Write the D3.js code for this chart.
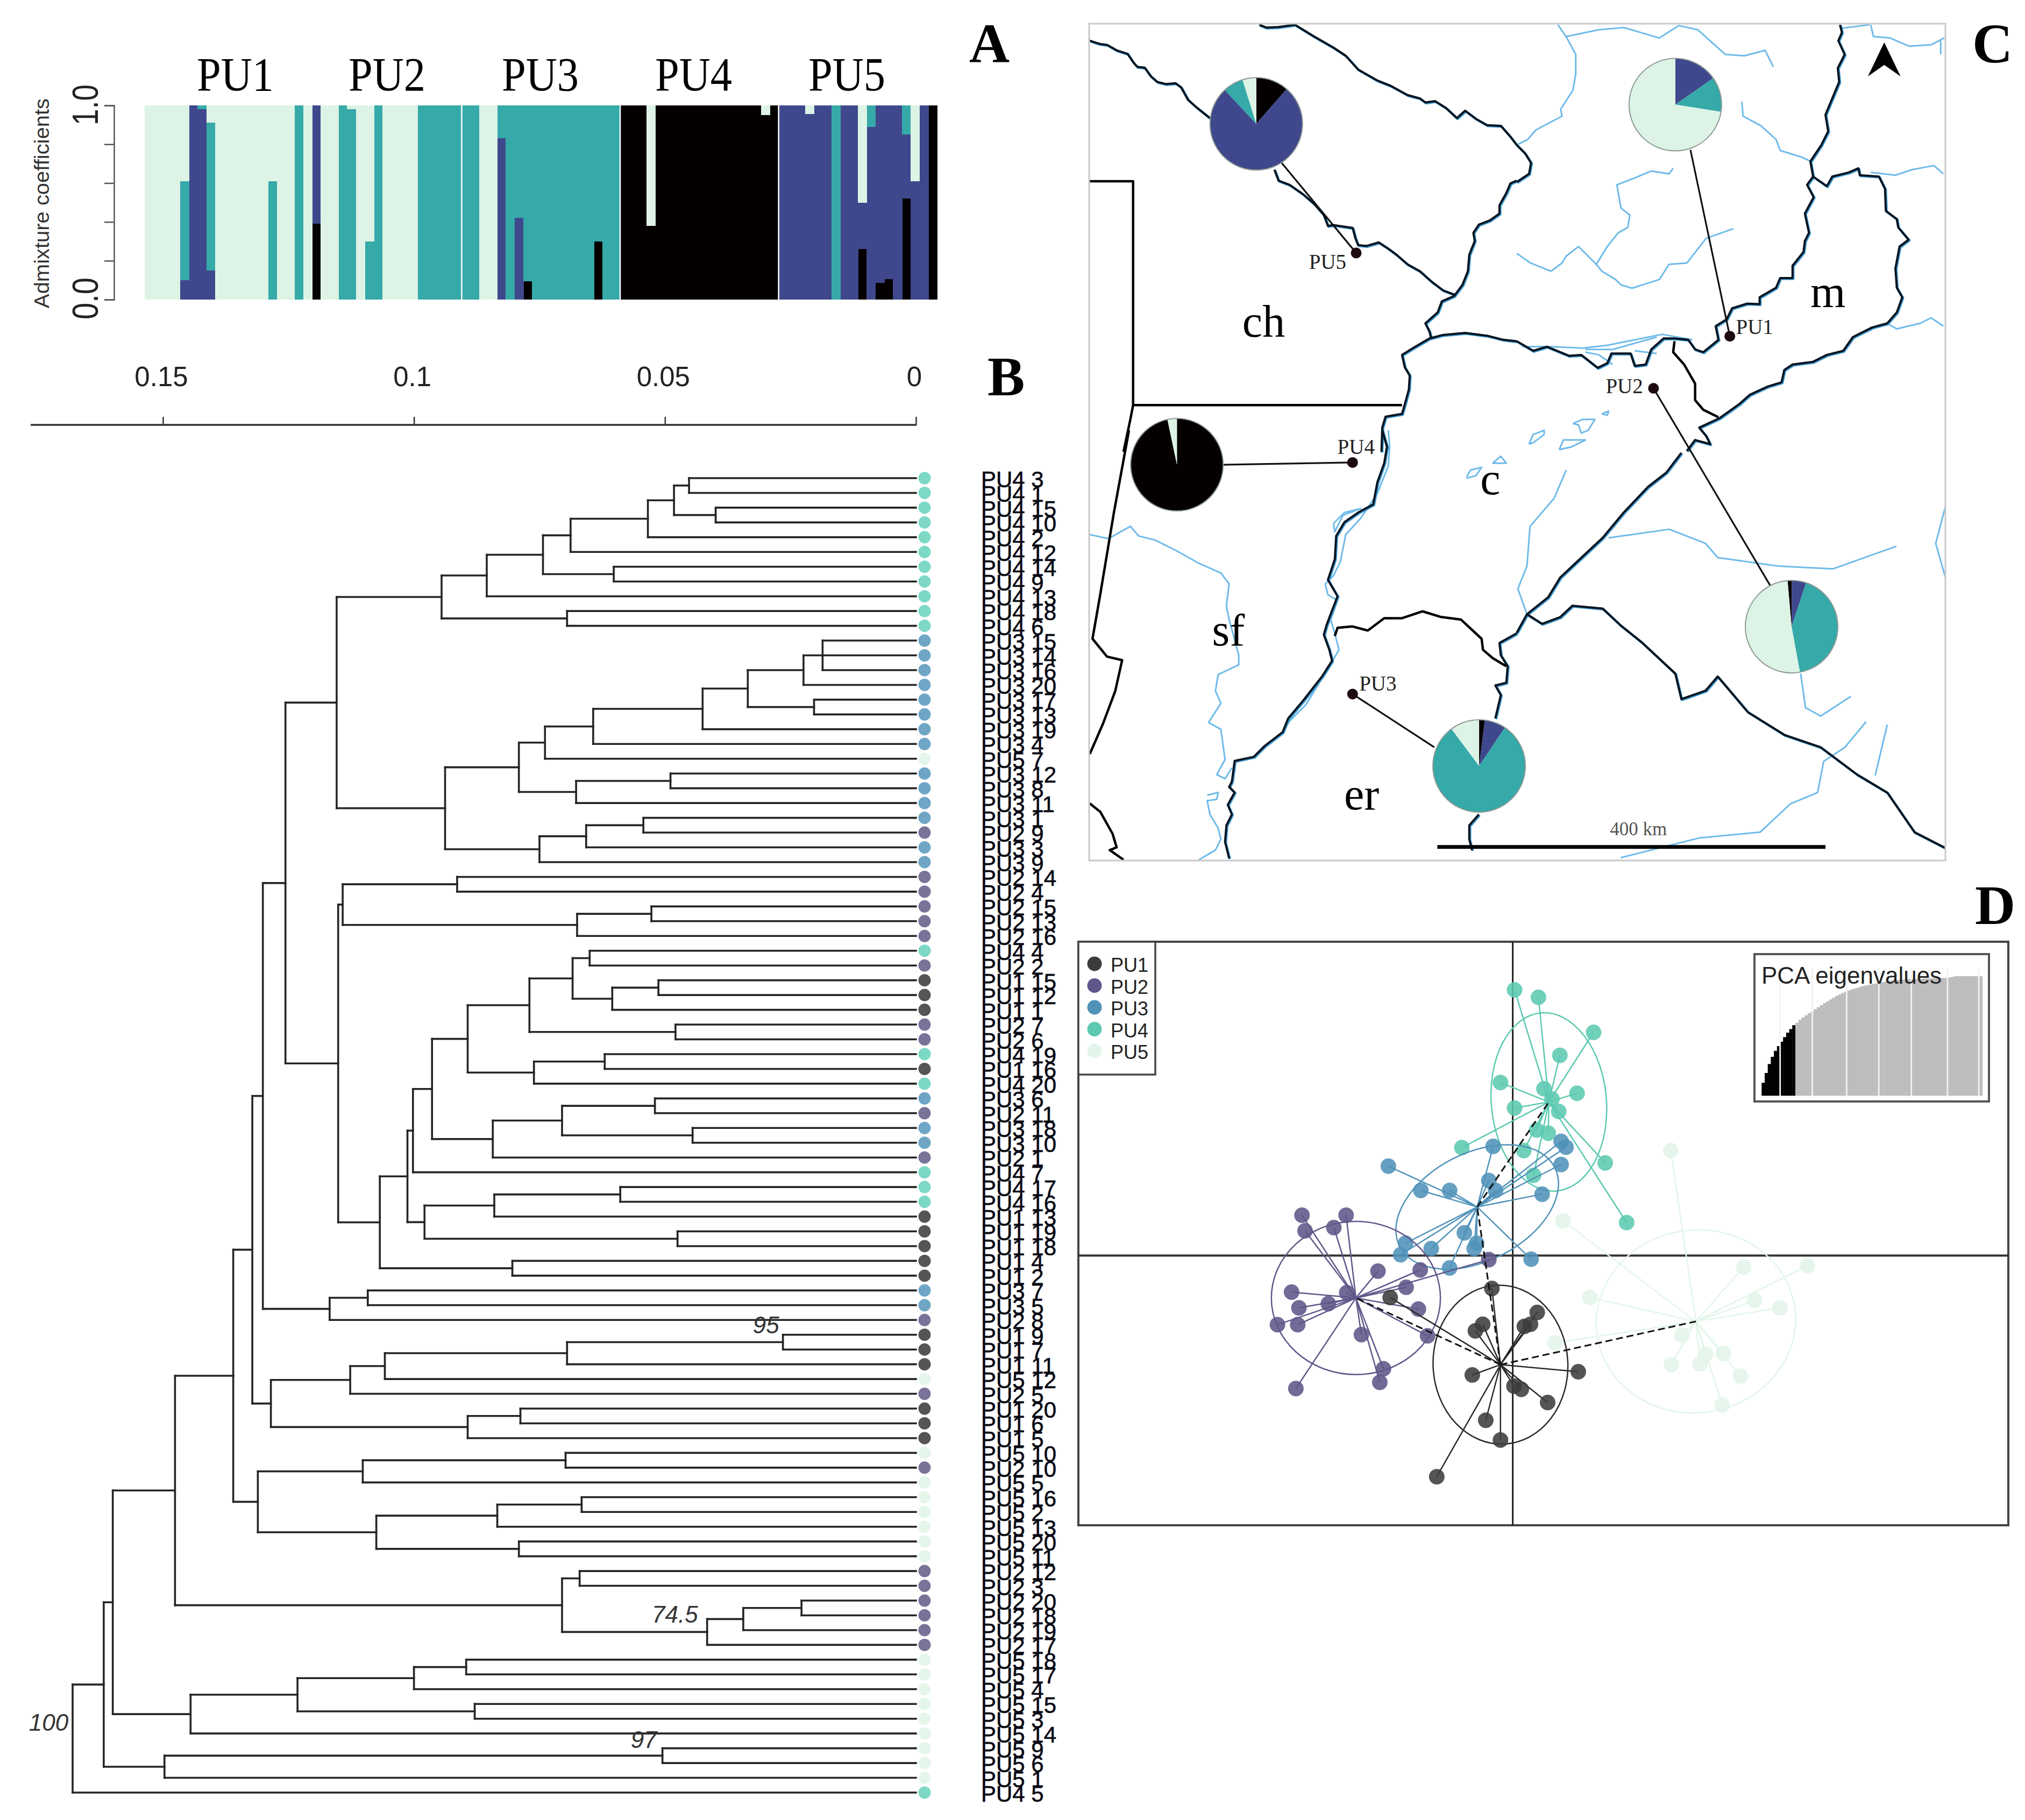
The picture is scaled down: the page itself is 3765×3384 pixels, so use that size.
<!DOCTYPE html>
<html><head><meta charset="utf-8">
<script src="https://cdn.jsdelivr.net/npm/d3@7/dist/d3.min.js"></script>
<style>html,body{margin:0;padding:0;background:#fff}svg{display:block}</style></head>
<body><svg id="c" width="3765" height="3384" xmlns="http://www.w3.org/2000/svg"></svg>
<script>
// ---------- Panel A: admixture coefficients (90 individuals, 18 per sampling unit)
const groupLabels=["PU1","PU2","PU3","PU4","PU5"];
const qBlack=[0,0,0,0,0,0,0,0,0,0,0,0,0,0,0,0,0,0,
 0,.39,0,0,0,0,0,0,0,0,0,0,0,0,0,0,0,0,
 0,0,0,0,0,0,0,.095,0,0,0,0,0,0,0,.30,0,0,
 1,1,1,.38,1,1,1,1,1,1,1,1,1,1,1,1,.95,1,
 0,0,0,0,0,0,0,0,0,.26,0,.085,.105,0,.52,0,0,1];
const qBlue=[0,0,0,0,.10,1,.98,.15,0,0,0,0,0,0,0,0,0,0,
 0,.61,0,0,0,0,0,0,0,0,0,0,0,0,0,0,0,0,
 0,0,0,0,.83,0,.42,0,0,0,0,0,0,0,0,0,0,0,
 0,0,0,0,0,0,0,0,0,0,0,0,0,0,0,0,0,0,
 1,1,1,.955,1,1,0,1,1,.24,.89,.915,.895,1,.33,.61,1,0];
const qTeal=[0,0,0,0,.51,0,.02,.76,0,0,0,0,0,0,.61,0,0,1,
 0,0,0,0,1,.98,0,.30,1,0,0,0,0,1,1,1,1,1,
 1,1,0,0,.17,1,.58,.905,1,1,1,1,1,1,1,.70,1,1,
 0,0,0,0,0,0,0,0,0,0,0,0,0,0,0,0,0,0,
 0,0,0,0,0,0,1,0,0,0,.11,0,0,0,.15,0,0,0];
const admixTicks=[0,.2,.4,.6,.8,1];
const clusterColors={black:"#050000",blue:"#3f488c",teal:"#36a9a9",light:"#ddf3e5"};

// ---------- Panel B: neighbour-joining tree, nested as [height, child, child...]
const cladeA=[.0945,[.0855,[.0743,[.0688,[.0534,[.0482,[.0452,"PU4 3","PU4 1"],[.0399,"PU4 15","PU4 10"]],"PU4 2"],"PU4 12"],[.0602,"PU4 14","PU4 9"]],"PU4 13"],[.0695,"PU4 18","PU4 6"]];
const cladeB=[.0938,[.0791,[.0739,[.0643,[.0425,[.0335,[.0224,[.0186,"PU3 15","PU3 14","PU3 16"],"PU3 20"],[.0203,"PU3 17","PU3 13"]],"PU3 19"],"PU3 4"],"PU5 7"],[.0677,[.0489,"PU3 12","PU3 8"],"PU3 11"]],[.0750,[.0657,[.0543,"PU3 1","PU2 9"],"PU3 3"],"PU3 9"]];
const cladeC=[.1142,[.0914,"PU2 14","PU2 4"],[.0675,[.0527,"PU2 15","PU2 13"],"PU2 16"]];
const cladeD=[.0964,[.0893,[.0770,[.0684,[.0650,"PU4 4","PU2 2"],[.0605,[.0513,"PU1 15","PU1 12"],"PU1 1"]],[.0479,"PU2 7","PU2 6"]],[.0761,[.0620,"PU4 19","PU1 16"],"PU4 20"]],[.0843,[.0705,[.0520,"PU3 6","PU2 11"],[.0445,"PU3 18","PU3 10"]],"PU2 1"]];
const cladeE=[.1068,[.1013,[.1002,cladeD,"PU4 7"],[.0979,[.0840,[.0589,"PU4 17","PU4 16"],"PU1 13"],[.0475,"PU1 19","PU1 18"]]],[.0804,"PU1 4","PU1 2"]];
const cladeF=[.1285,[.1127,[.1058,[.0695,[.0265,"PU1 9","PU1 7"],"PU1 11"],"PU5 12"],"PU2 5"],[.0893,[.0788,"PU1 20","PU1 6"],"PU1 5"]];
const cladeG=[.1311,[.1102,[.0698,"PU5 10","PU2 10"],"PU5 5"],[.1075,[.0834,[.0666,"PU5 16","PU5 2"],"PU5 13"],[.0791,"PU5 20","PU5 11"]]];
const cladeH=[.0705,[.0670,"PU2 12","PU2 3"],[.0416,[.0344,[.0228,"PU2 20","PU2 18"],"PU2 19"],"PU2 17"]];
const cladeI=[.1445,[.1232,[.1000,[.0896,"PU5 18","PU5 17"],"PU5 4"],[.0879,"PU5 15","PU5 3"]],"PU5 14"];
const treeRoot=[.1680,[.1618,[.1600,[.1476,[.1360,[.1322,[.1301,[.1256,[.1154,cladeA,cladeB],[.1151,cladeC,cladeE]],[.1168,[.1092,"PU3 7","PU3 5"],"PU2 8"]],cladeF],cladeG],cladeH],cladeI],[.1497,[.0505,"PU5 9","PU5 6"],"PU5 1"]],"PU4 5"];
const treeTicks=[.15,.1,.05,0];
const treeTickLabels=["0.15","0.1","0.05","0"];
const popDotColors={PU1:"#555555",PU2:"#7a7399",PU3:"#6fa6c6",PU4:"#7dd8c6",PU5:"#e4f6ea"};
const supports=[{t:"95",h:.0325,i:57.9},{t:"74.5",h:.0526,i:77.5},{t:"97",h:.0568,i:85.98},{t:"100",h:.1767,i:84.8}];

// ---------- Panel C: map. Sites and the south-east are in map units; three traced sheets in sheet units.
const mapBox=[22,1436,42,1520];
const seDark=[
 [[1000,800],[975,835],[945,860],[905,905],[870,950],[830,990],[800,1020],[780,1055],[745,1085],[728,1118]],
 [[745,1085],[770,1102],[800,1090],[820,1070],[870,1075],[900,1105],[935,1135],[990,1190],[1000,1235],[1040,1220],[1060,1195],[1110,1258],[1170,1298],[1230,1320],[1290,1368],[1340,1400],[1385,1470],[1436,1498]]
];
const seLight=[
 [[810,830],[790,880],[750,930],[745,1000],[730,1040],[745,1085]],
 [[880,950],[980,935],[1040,960],[1060,985],[1160,1000],[1250,1005],[1355,965]],
 [[1436,895],[1420,960],[1436,1020]],
 [[1197,1190],[1205,1250],[1230,1265],[1280,1230]],
 [[1305,1275],[1270,1320],[1235,1345],[1225,1400],[1180,1420],[1130,1470],[1030,1480],[900,1515]],
 [[1340,1280],[1320,1370]]
];
const nwDark=[
 [[12,70],[50,82],[75,85],[110,105],[150,118],[170,148],[185,165],[212,168],[235,200],[258,220],[290,228],[325,225],[345,240],[370,285],[400,312],[450,352]],
 [[685,540],[700,580],[740,595],[790,630],[830,665],[865,705],[880,745],[900,742],[970,752],[980,790],[990,815],[1020,818],[1065,805],[1100,828],[1130,850],[1170,885],[1215,910],[1260,950],[1300,980],[1340,995]],
 [[630,12],[655,22],[700,20],[760,12],[830,55],[900,95],[945,125],[990,175],[1060,215],[1110,235],[1170,268],[1215,280],[1235,295],[1270,290],[1310,315],[1350,352],[1380,325],[1420,355],[1460,378],[1510,380],[1545,420],[1568,450]],
 [[1568,580],[1545,590],[1530,625],[1505,670],[1505,700],[1470,725],[1430,740],[1410,770],[1415,800],[1395,850],[1390,910],[1370,960],[1340,1000],[1295,1020],[1280,1060],[1235,1100],[1250,1130],[1255,1150]],
 [[1568,1165],[1520,1160],[1460,1145],[1380,1135],[1300,1142],[1250,1155],[1190,1190],[1150,1215],[1160,1260],[1178,1290],[1175,1340],[1160,1395],[1150,1430],[1090,1440],[1078,1480],[1075,1568]]
];
const nwBorders=[[[12,582],[170,582],[170,1398],[1150,1398]],[[170,1398],[160,1450],[135,1568]]];
const neDark=[
 [[0,450],[30,480],[52,515],[45,555],[0,585]],
 [[1178,12],[1185,40],[1172,70],[1195,120],[1170,170],[1175,220],[1150,280],[1125,340],[1135,400],[1110,450],[1070,510],[1080,565],[1058,595],[1082,640],[1050,700],[1065,770],[1050,800],[1045,840],[1005,890],[1005,935],[960,935],[945,970],[885,1005],[885,1030],[840,1028],[785,1045],[765,1085],[725,1110],[735,1160],[680,1205],[650,1195],[625,1160],[575,1155],[535,1155],[490,1195],[470,1250],[430,1255],[415,1210],[345,1210],[330,1245],[295,1262],[235,1215],[190,1218],[110,1185],[60,1200],[0,1165]],
 [[1080,565],[1130,600],[1150,565],[1210,550],[1245,535],[1250,560],[1320,565],[1342,610],[1345,690],[1385,720],[1390,750],[1428,795],[1395,820],[1380,900],[1385,970],[1405,1005],[1385,1060],[1350,1100],[1295,1115],[1225,1150],[1190,1200],[1130,1215],[1080,1240],[1005,1250],[975,1270],[965,1315],[915,1330],[850,1360],[810,1395],[740,1445],[665,1480],[690,1510],[705,1540],[650,1525],[620,1565]]
];
const neBorders=[[[575,1165],[570,1205],[610,1250],[650,1320],[650,1380],[680,1415],[735,1442]]];
const neLight=[
 [[150,12],[180,55],[215,120],[215,190],[205,250],[160,320],[165,345],[70,395],[40,430],[0,450]],
 [[180,55],[300,30],[390,22],[520,60],[590,15],[660,30],[710,75],[760,120],[830,125],[905,105],[935,165]],
 [[820,292],[825,345],[890,380],[945,430],[960,470],[1040,495],[1072,510]],
 [[1290,550],[1380,560],[1440,540],[1520,525],[1555,555]],
 [[1180,25],[1285,12]],
 [[1290,12],[1300,55],[1360,60],[1430,90],[1510,85],[1558,60]],
 [[1545,70],[1545,120]],
 [[570,535],[555,555],[490,545],[430,570],[365,595],[380,680],[412,705],[405,750],[370,770],[330,820],[290,885],[310,910],[360,940],[380,960],[420,972],[520,940],[555,885],[620,880],[690,790],[790,755]],
 [[0,845],[50,880],[125,910],[165,880],[180,855],[225,820],[290,885]],
 [[1350,1100],[1385,1120],[1470,1100],[1510,1080],[1555,1110]],
 [[20,1185],[120,1185],[240,1190],[330,1180],[430,1160],[530,1140],[640,1160]],
 [[250,1195],[350,1195],[510,1150]],
 [[250,1205],[300,1215],[350,1250]],
 [[430,1200],[510,1210]],
 [[45,1540],[60,1505],[100,1490],[100,1505],[60,1535],[45,1540]],
 [[205,1465],[240,1450],[285,1450],[260,1490],[235,1500],[225,1470],[205,1465]],
 [[310,1430],[335,1420],[330,1435],[310,1430]],
 [[155,1560],[170,1525],[250,1525],[200,1550],[155,1560]]
];
const swDark=[
 [[1078,0],[1095,60],[1085,120],[1060,190],[1045,270],[990,300],[940,335],[910,385],[905,470],[880,545],[915,605],[890,670],[875,710],[865,745],[885,800],[895,840],[860,895],[790,985],[735,1050],[715,1100],[650,1150],[610,1190],[540,1205],[530,1280],[520,1300],[540,1320],[515,1365],[530,1400],[510,1440],[505,1500],[520,1560]],
 [[1568,740],[1505,775],[1510,820],[1535,860],[1530,920],[1490,930],[1510,965],[1490,1050]],
 [[1430,1400],[1395,1440],[1395,1490],[1405,1530]]
];
const swBorders=[
 [[155,0],[100,300],[50,600],[22,760],[75,825],[130,838],[105,950],[60,1070],[12,1180]],
 [[12,1360],[50,1390],[95,1470],[110,1520],[85,1530],[135,1565]],
 [[905,750],[915,720],[970,715],[1025,730],[1085,685],[1150,685],[1225,660],[1290,680],[1365,690],[1440,760],[1445,800],[1480,830],[1530,860]]
];
const swLight=[
 [[12,380],[80,395],[160,350],[190,385],[250,400],[330,440],[410,485],[490,520],[520,560],[510,640],[520,690],[555,820],[555,855],[480,890],[470,950],[490,995],[445,1065],[490,1090],[505,1200],[475,1255],[505,1270],[530,1230]],
 [[440,1330],[480,1320],[475,1345],[440,1350],[450,1400],[480,1450],[490,1490],[470,1530],[410,1565]],
 [[1100,0],[1105,60],[1100,130],[1060,230],[1000,320],[945,380],[925,480],[900,530],[870,560],[880,600],[915,620],[890,690],[905,740],[920,800],[900,835],[800,1000],[740,1060],[710,1110]],
 [[900,340],[905,370],[935,310],[1000,285],[940,300],[900,340]],
 [[1385,170],[1400,145],[1440,135],[1420,165],[1385,175]],
 [[1480,120],[1510,95],[1530,120],[1480,120]]
];
const sites=[
 {n:"PU1",x:1080,y:594,lx:1090,ly:590,px:990,py:185,ex:1015,ey:265},
 {n:"PU2",x:954,y:686,lx:875,ly:695,px:1182,py:1107,ex:1147,ey:1035},
 {n:"PU3",x:457,y:1226,lx:468,ly:1220,px:666,py:1353,ex:592,ey:1320},
 {n:"PU4",x:457,y:817,lx:432,ly:802,px:167,py:821,ex:243,ey:821},
 {n:"PU5",x:463,y:447,lx:385,ly:475,px:298,py:219,ex:340,ey:288}
];
// black, blue, teal, light
const pieShares=[[0,.153,.122,.725],[.015,.05,.42,.515],[.02,.074,.804,.102],[.967,0,0,.033],[.114,.767,.071,.048]];
const pieStartDeg=[0,-5,0,0,0];
const regionNames=[{t:"ch",x:275,y:595},{t:"m",x:1213,y:543},{t:"c",x:668,y:873},{t:"sf",x:225,y:1140},{t:"er",x:443,y:1430}];

// ---------- Panel D: PCA
const pcaGroups=["PU1","PU2","PU3","PU4","PU5"];
const pcaColors={PU1:"#3c3c3c",PU2:"#5f5789",PU3:"#5092b8",PU4:"#5cc9b0",PU5:"#e3f5ea"};
const pcaLines={PU1:"#2a2a2a",PU2:"#5f5789",PU3:"#5092b8",PU4:"#5cc9b0",PU5:"#e3f5ea"};
const pu1Pts=[[-.34,-.80],[-2.00,-1.02],[.40,-1.38],[.19,-1.72],[.29,-1.67],[-.49,-1.67],[-.61,-1.83],[1.07,-2.82],[-.66,-2.90],[.02,-3.17],[.14,-3.25],[.57,-3.57],[-.44,-4.00],[-.20,-4.48],[-1.24,-5.37]];
const pu2Pts=[[-3.44,.98],[-2.72,.98],[-3.39,.60],[-2.92,.68],[-2.20,-.38],[-1.51,-.35],[-.39,-.10],[-1.74,-.77],[-2.71,-.90],[-3.61,-.89],[-3.01,-1.17],[-3.49,-1.27],[-1.54,-1.30],[-3.84,-1.68],[-3.51,-1.68],[-2.47,-1.92],[-1.39,-1.95],[-2.11,-2.75],[-2.17,-3.08],[-3.54,-3.23]];
const pu3Pts=[[-.32,2.65],[.79,2.77],[.87,2.63],[-2.03,2.17],[.79,2.21],[-.39,1.82],[-1.50,1.58],[-1.03,1.58],[-.28,1.58],[.48,1.49],[-.79,.55],[-1.75,.30],[-.59,.30],[-1.33,.17],[-.63,.17],[-1.83,.02],[-1.03,-.30],[.30,-.09]];
const pu4Pts=[[.03,6.45],[.42,6.27],[1.32,5.42],[.77,4.86],[-.20,4.20],[.51,4.05],[1.05,3.94],[.64,3.80],[.03,3.58],[.75,3.50],[.39,3.05],[.58,2.97],[-.83,2.62],[.18,2.55],[1.51,2.25],[.34,1.95],[1.86,.80]];
const pu5Pts=[[2.58,2.55],[.82,.84],[3.77,-.28],[4.81,-.25],[1.26,-1.02],[3.95,-1.09],[4.36,-1.27],[2.76,-1.93],[.69,-2.12],[3.15,-2.40],[3.44,-2.38],[2.59,-2.65],[3.06,-2.63],[3.72,-2.93],[3.42,-3.63]];
const pcaPoints=[pu1Pts,pu2Pts,pu3Pts,pu4Pts,pu5Pts];
const pcaCentres=[[-.20,-2.65],[-2.56,-1.03],[-.58,1.18],[.59,3.73],[2.99,-1.60]];
const ellipseRadii=[[1.10,1.93],[1.38,1.86],[1.42,1.31],[.94,2.17],[1.63,2.22]];
const ellipseTilt=[-3,0,-27,-5,-8];
const centreLinks=[[0,1],[0,2],[0,4],[2,3]];
const eigenCumulative=[.108,.19,.265,.325,.375,.415,.452,.49,.527,.557,.59,.61,.635,.655,.672,.69,.705,.723,.74,.757,.775,.79,.805,.82,.835,.848,.86,.87,.88,.89,.897,.905,.913,.92,.925,.93,.935,.94,.945,.95,.955,.96,.963,.966,.968,.97,.972,.974,.976,.977,.978,.979,.98,.981,.982,.983,.984,.984,.985,.985,.985,.99,.995,1,1,1,1,1,1,1,1,1];
const eigenRetained=11;
const eigenGaps=[6,16.5,27.7,38.2,48.8,60.6,70.8];

// =================================================================
const svg=d3.select("#c");
const SERIF="'Liberation Serif','Times New Roman',serif", SANS="'Liberation Sans',Arial,sans-serif";
const txt=(p,t,x,y,size,fam,extra={})=>{const e=p.append("text").attr("x",x).attr("y",y).attr("font-size",size).attr("font-family",fam).attr("fill",extra.fill||"#000").text(t);
  if(extra.weight)e.attr("font-weight",extra.weight); if(extra.style)e.attr("font-style",extra.style);
  if(extra.anchor)e.attr("text-anchor",extra.anchor); if(extra.len)e.attr("textLength",extra.len).attr("lengthAdjust","spacingAndGlyphs"); return e;};
[["A",1802,116],["B",1836,735],["C",3667,116],["D",3672,1718]].forEach(d=>txt(svg,d[0],d[1],d[2],104,SERIF,{weight:"bold"}));

// ----- A
{const g=svg.append("g");
 const x=d3.scaleBand().domain(d3.range(qBlack.length)).range([269,1742]);
 const y=d3.scaleLinear().domain([0,1]).range([557,196]);
 const rows=qBlack.map((b,i)=>({i,black:b,blue:qBlue[i],teal:qTeal[i],light:Math.max(0,1-b-qBlue[i]-qTeal[i])}));
 const stack=d3.stack().keys(["black","blue","teal","light"])(rows);
 g.selectAll("g.s").data(stack).join("g").attr("fill",d=>clusterColors[d.key]).attr("shape-rendering","crispEdges").selectAll("rect").data(d=>d).join("rect")
  .attr("x",d=>x(d.data.i)).attr("width",x.bandwidth()+1).attr("y",d=>y(d[1])).attr("height",d=>Math.max(0,y(d[0])-y(d[1])));
 [36,54,72].forEach(i=>g.append("rect").attr("x",x(i)-1).attr("width",2.5).attr("y",196).attr("height",361).attr("fill","#fff"));
 const ax=g.append("g").attr("transform","translate(212,0)").call(d3.axisLeft(y).tickValues(admixTicks).tickSize(18).tickFormat(""));
 ax.selectAll("path,line").attr("stroke","#555").attr("stroke-width",2.5);
 const rot=(t,cy,size,len,bx,col)=>g.append("text").attr("transform",`translate(${bx},${cy}) rotate(-90)`).attr("text-anchor","middle").attr("font-family",SANS).attr("font-size",size).attr("fill",col).attr("textLength",len).attr("lengthAdjust","spacingAndGlyphs").text(t);
 rot("Admixture coefficients",378,38,390,91,"#333");
 rot("1.0",195,68,76,182,"#222"); rot("0.0",555,68,78,182,"#222");
 [366,648,933,1218,1503].forEach((lx,i)=>txt(g,groupLabels[i],lx,168,88,SERIF,{len:143}));
}

// ----- B
{const g=svg.append("g");
 const xT=d3.scaleLinear().domain([0,.15]).range([1703,303]);
 const ax=g.append("g").attr("transform","translate(0,790)").call(d3.axisTop(xT).tickValues(treeTicks).tickSize(15).tickFormat(""));
 ax.select(".domain").remove(); ax.selectAll("line").attr("stroke","#333").attr("stroke-width",2.5);
 g.append("line").attr("x1",57).attr("x2",xT(0)+1).attr("y1",790).attr("y2",790).attr("stroke","#333").attr("stroke-width",3.5);
 treeTicks.forEach((t,i)=>txt(g,treeTickLabels[i],xT(t)-3,718,51,SANS,{anchor:"middle",fill:"#222"}));
 const root=d3.hierarchy(treeRoot,d=>Array.isArray(d)?d.slice(1):null);
 const leaves=root.leaves();
 const yT=d3.scaleLinear().domain([0,leaves.length-1]).range([889,3333]);
 leaves.forEach((l,i)=>{l.py=yT(i);l.name=l.data;});
 root.eachAfter(n=>{n.px=xT(n.children?n.data[0]:0);if(n.children){n.py=(n.children[0].py+n.children[n.children.length-1].py)/2;}});
 const ln=g.append("g").attr("stroke","#252525").attr("stroke-width",3.6).attr("fill","none").attr("stroke-linecap","square");
 root.each(n=>{if(n.parent)ln.append("line").attr("x1",n.parent.px).attr("x2",n.px).attr("y1",n.py).attr("y2",n.py);
  if(n.children)ln.append("line").attr("x1",n.px).attr("x2",n.px).attr("y1",n.children[0].py).attr("y2",n.children[n.children.length-1].py);});
 leaves.forEach(l=>{const pop=l.name.split(" ")[0];
  g.append("circle").attr("cx",1719).attr("cy",l.py).attr("r",11.5).attr("fill",popDotColors[pop]);
  txt(g,l.name,1824,l.py+17,42,SANS,{fill:"#0a0a14"}).attr("stroke","#0a0a14").attr("stroke-width",.6);});
 supports.forEach(s=>txt(g,s.t,xT(s.h),yT(s.i),44,SANS,{style:"italic",fill:"#333"}));
}

// ----- C
{const g=svg.append("g");
 const mx=d3.scaleLinear().domain([mapBox[0],mapBox[1]]).range([2025,3617]);
 const my=d3.scaleLinear().domain([mapBox[2],mapBox[3]]).range([44,1600]);
 svg.append("clipPath").attr("id","mapclip").append("rect").attr("x",2025).attr("y",44).attr("width",1592).attr("height",1556);
 const m=g.append("g").attr("clip-path","url(#mapclip)");
 const lineOf=(sx,sy)=>d3.line().x(d=>sx(d[0])).y(d=>sy(d[1]));
 const sheet=(ox,oy)=>{const s=d3.scaleLinear().domain([0,1568]);return lineOf(s.copy().range([ox,ox+800]),s.copy().range([oy,oy+800]));};
 const mapLine=lineOf(mx,my), nw=sheet(2020,40), ne=sheet(2820,40), sw=sheet(2020,800);
 const draw=(data,gen,col,w,dx=0,dy=0)=>m.append("g").attr("transform",`translate(${dx},${dy})`).attr("fill","none").attr("stroke",col).attr("stroke-width",w).attr("stroke-linejoin","round").selectAll("path").data(data).join("path").attr("d",gen);
 const lights=[[seLight,mapLine],[neLight,ne],[swLight,sw]];
 const darks=[[seDark,mapLine],[nwDark,nw],[neDark,ne],[swDark,sw]];
 const borders=[[nwBorders,nw],[neBorders,ne],[swBorders,sw]];
 lights.forEach(([d,f])=>draw(d,f,"#6fbbe9",3));
 darks.forEach(([d,f])=>draw(d,f,"#3f9ad2",4.5,1.5,1.5));
 darks.forEach(([d,f])=>draw(d,f,"#06141f",4));
 borders.forEach(([d,f])=>draw(d,f,"#000",4.5));
 g.append("rect").attr("x",2025).attr("y",44).attr("width",1592).attr("height",1556).attr("fill","none").attr("stroke","#c8c8c8").attr("stroke-width",3);
 regionNames.forEach(d=>txt(g,d.t,mx(d.x),my(d.y),84,SERIF));
 const pal=[clusterColors.black,clusterColors.blue,clusterColors.teal,clusterColors.light];
 sites.forEach((s,i)=>{
  g.append("line").attr("x1",mx(s.x)).attr("y1",my(s.y)).attr("x2",mx(s.ex)).attr("y2",my(s.ey)).attr("stroke","#111").attr("stroke-width",3.2);
  g.append("circle").attr("cx",mx(s.x)).attr("cy",my(s.y)).attr("r",10).attr("fill","#1c0a10");
  txt(g,s.n,mx(s.lx),my(s.ly),39,SERIF,{fill:"#222"});
  const st=pieStartDeg[i]*Math.PI/180;
  const arcs=d3.pie().sort(null).startAngle(st).endAngle(st+2*Math.PI)(pieShares[i]);
  const pg=g.append("g").attr("transform",`translate(${mx(s.px)},${my(s.py)})`);
  pg.selectAll("path").data(arcs).join("path").attr("d",d3.arc().innerRadius(0).outerRadius(86)).attr("fill",(d,j)=>pal[j]);
  pg.append("circle").attr("r",86).attr("fill","none").attr("stroke","#8d9a94").attr("stroke-width",2);
 });
 g.append("line").attr("x1",mx(597)).attr("x2",mx(1238)).attr("y1",my(1496)).attr("y2",my(1496)).attr("stroke","#000").attr("stroke-width",7);
 txt(g,"400 km",mx(882),my(1475),35,SERIF,{fill:"#555"});
 g.append("path").attr("d",mapLine([[1335,75],[1362,135],[1335,115],[1308,135]])+"Z").attr("fill","#000");
}

// ----- D
{const g=svg.append("g");
 const px=d3.scaleLinear().domain([-7.09,8.09]).range([2005,3734]);
 const py=d3.scaleLinear().domain([-6.55,7.62]).range([2836,1751]);
 g.append("rect").attr("x",2005).attr("y",1751).attr("width",1729).attr("height",1085).attr("fill","#fff").attr("stroke","#444").attr("stroke-width",4);
 g.append("line").attr("x1",px(0)).attr("x2",px(0)).attr("y1",1751).attr("y2",2836).attr("stroke","#222").attr("stroke-width",3);
 g.append("line").attr("x1",2005).attr("x2",3734).attr("y1",py(0)).attr("y2",py(0)).attr("stroke","#333").attr("stroke-width",4);
 const order=[4,3,2,1,0];
 order.forEach(k=>{const c=pcaCentres[k],pop=pcaGroups[k],col=pcaColors[pop],lc=pcaLines[pop];
  const gg=g.append("g");
  gg.append("ellipse").attr("cx",px(c[0])).attr("cy",py(c[1])).attr("rx",px(ellipseRadii[k][0])-px(0)).attr("ry",py(0)-py(ellipseRadii[k][1]))
   .attr("transform",`rotate(${ellipseTilt[k]},${px(c[0])},${py(c[1])})`).attr("fill","none").attr("stroke",lc).attr("stroke-width",2.5);
  gg.selectAll("line").data(pcaPoints[k]).join("line").attr("x1",px(c[0])).attr("y1",py(c[1])).attr("x2",d=>px(d[0])).attr("y2",d=>py(d[1])).attr("stroke",lc).attr("stroke-width",2.5);
  gg.selectAll("circle").data(pcaPoints[k]).join("circle").attr("cx",d=>px(d[0])).attr("cy",d=>py(d[1])).attr("r",14.5).attr("fill",col).attr("fill-opacity",.88);
 });
 centreLinks.forEach(([a,b])=>g.append("line").attr("x1",px(pcaCentres[a][0])).attr("y1",py(pcaCentres[a][1])).attr("x2",px(pcaCentres[b][0])).attr("y2",py(pcaCentres[b][1])).attr("stroke","#111").attr("stroke-width",3).attr("stroke-dasharray","13 7"));
 // legend
 g.append("rect").attr("x",2005).attr("y",1751).attr("width",143).attr("height",247).attr("fill","#fff").attr("stroke","#444").attr("stroke-width",3.5);
 const ly=d3.scalePoint().domain(pcaGroups).range([1792,1954]);
 pcaGroups.forEach(p=>{g.append("circle").attr("cx",2035).attr("cy",ly(p)).attr("r",13.5).attr("fill",pcaColors[p]);
  txt(g,p,2065,ly(p)+15,36,SANS,{fill:"#222"});});
 // eigenvalue inset
 g.append("rect").attr("x",3262).attr("y",1774).attr("width",436).attr("height",274).attr("fill","#fff").attr("stroke","#555").attr("stroke-width",4);
 const ex=d3.scaleBand().domain(d3.range(eigenCumulative.length)).range([3275.3,3685.7]);
 const ey=d3.scaleLinear().domain([0,1]).range([2037.3,1815]);
 g.selectAll("rect.e").data(eigenCumulative).join("rect").attr("class","e").attr("x",(d,i)=>ex(i)).attr("width",ex.bandwidth()+.5).attr("y",d=>ey(d)).attr("height",d=>ey(0)-ey(d)).attr("fill",(d,i)=>i<eigenRetained?"#000":"#bdbdbd");
 eigenGaps.forEach(i=>g.append("rect").attr("x",ex(0)+i*ex.step()-1.2).attr("width",2.8).attr("y",1800).attr("height",240).attr("fill","#f2f2f2"));
 txt(g,"PCA eigenvalues",3275,1829,44,SANS,{fill:"#222"});
}
</script></body></html>
